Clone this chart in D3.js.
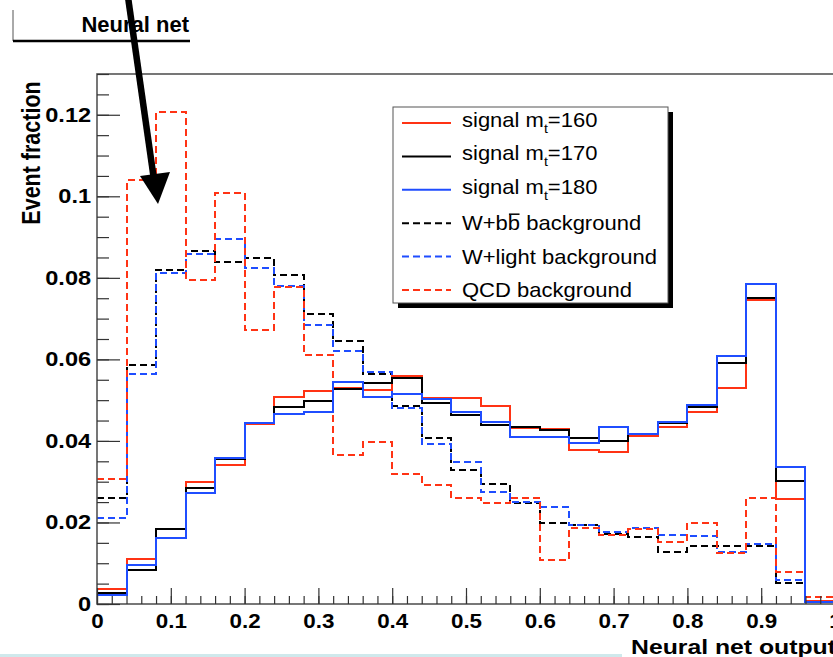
<!DOCTYPE html>
<html>
<head>
<meta charset="utf-8">
<script src="https://cdn.jsdelivr.net/npm/d3@7"></script>
<style>
  body { margin: 0; background: #fff; }
  svg { display: block; font-family: "Liberation Sans", Arial, Helvetica, sans-serif; }
</style>
</head>
<body>
<div id="chart"></div>
<script>
// bin edges of the neural net output histograms
const binEdges = [0, 0.04, 0.08, 0.12, 0.16, 0.2, 0.24, 0.28, 0.32, 0.36, 0.4, 0.44, 0.48,
  0.52, 0.56, 0.6, 0.64, 0.68, 0.72, 0.76, 0.8, 0.84, 0.88, 0.92, 0.96, 1.0]

// event fractions per bin
const sig160 = [0.0038, 0.0110, 0.0163, 0.0300, 0.0342, 0.0441, 0.0508, 0.0522, 0.0530, 0.0524,
  0.0559, 0.0506, 0.0506, 0.0485, 0.0431, 0.0430, 0.0377, 0.0373, 0.0413, 0.0434, 0.0471,
  0.0531, 0.0745, 0.0257, 0.0007]
const sig170 = [0.0027, 0.0083, 0.0183, 0.0284, 0.0355, 0.0443, 0.0482, 0.0497, 0.0527, 0.0541,
  0.0555, 0.0492, 0.0463, 0.0439, 0.0434, 0.0426, 0.0408, 0.0399, 0.0417, 0.0444, 0.0483,
  0.0591, 0.0751, 0.0302, 0.0005]
const sig180 = [0.0022, 0.0096, 0.0163, 0.0273, 0.0358, 0.0443, 0.0465, 0.0470, 0.0544, 0.0508,
  0.0515, 0.0502, 0.0471, 0.0447, 0.0410, 0.0410, 0.0395, 0.0434, 0.0417, 0.0447, 0.0488,
  0.0608, 0.0784, 0.0336, 0.0005]
const wbb = [0.0260, 0.0586, 0.0820, 0.0865, 0.0839, 0.0849, 0.0806, 0.0712, 0.0644, 0.0565,
  0.0485, 0.0406, 0.0328, 0.0294, 0.0247, 0.0199, 0.0194, 0.0172, 0.0165, 0.0128, 0.0142,
  0.0142, 0.0142, 0.0052, 0.0007]
const wlight = [0.0212, 0.0565, 0.0812, 0.0859, 0.0896, 0.0823, 0.0779, 0.0684, 0.0620, 0.0568,
  0.0480, 0.0392, 0.0349, 0.0274, 0.0251, 0.0238, 0.0194, 0.0177, 0.0187, 0.0169, 0.0167,
  0.0127, 0.0147, 0.0059, 0.0005]
const qcd = [0.0306, 0.1039, 0.1206, 0.0794, 0.1008, 0.0673, 0.0778, 0.0610, 0.0365, 0.0398,
  0.0320, 0.0292, 0.0260, 0.0247, 0.0260, 0.0108, 0.0187, 0.0169, 0.0185, 0.0153, 0.0198,
  0.0124, 0.0260, 0.0079, 0.0016]

const xTicks = [0, 0.1, 0.2, 0.3, 0.4, 0.5, 0.6, 0.7, 0.8, 0.9, 1]
const xTickLabels = ["0", "0.1", "0.2", "0.3", "0.4", "0.5", "0.6", "0.7", "0.8", "0.9", "1"]
const yTicks = [0, 0.02, 0.04, 0.06, 0.08, 0.1, 0.12]
const yTickLabels = ["0", "0.02", "0.04", "0.06", "0.08", "0.1", "0.12"]

const legendMass = ["160", "170", "180"]
const legendBkg = ["W+b", "W+light background", "QCD background"]

const red = "#ff3314"
const blue = "#1f4dff"

const width = 833
const height = 657
const plot = {left: 97, top: 74, right: 835, bottom: 604}

const svg = d3.select("#chart").append("svg")
  .attr("width", width)
  .attr("height", height)

const x = d3.scaleLinear().domain([0, 1]).range([plot.left, plot.right])
const y = d3.scaleLinear().domain([0, 0.13]).range([plot.bottom, plot.top])

// Histograms
svg.append("clipPath").attr("id", "clip")
  .append("rect")
  .attr("x", plot.left).attr("y", plot.top)
  .attr("width", plot.right - plot.left).attr("height", plot.bottom - plot.top)

const step = d3.line()
  .curve(d3.curveStepAfter)
  .x(d => Math.round(x(d[0])))
  .y(d => Math.round(y(d[1])))

const histPoints = values => {
  const pts = values.map((v, i) => [binEdges[i], v])
  pts.push([binEdges[binEdges.length - 1], values[values.length - 1]])
  return pts
}

const series = [
  {values: wbb, color: "#000", dash: "7,4"},
  {values: wlight, color: blue, dash: "7,4"},
  {values: qcd, color: red, dash: "7,4"},
  {values: sig160, color: red, dash: null},
  {values: sig170, color: "#000", dash: null},
  {values: sig180, color: blue, dash: null}
]

svg.append("g")
  .attr("clip-path", "url(#clip)")
  .selectAll("path")
  .data(series)
  .enter()
  .append("path")
  .attr("d", d => step(histPoints(d.values)))
  .attr("fill", "none")
  .attr("stroke", d => d.color)
  .attr("stroke-width", 2)
  .attr("stroke-dasharray", d => d.dash)

// Frame
svg.append("rect")
  .attr("x", plot.left).attr("y", plot.top)
  .attr("width", plot.right - plot.left).attr("height", plot.bottom - plot.top)
  .attr("fill", "none")
  .attr("stroke", "#555")
  .attr("stroke-width", 1.6)

// Axes
const styleAxis = g => {
  g.select(".domain").remove()
  g.selectAll(".tick line").attr("stroke", "#333").attr("stroke-width", 1.2)
}

svg.append("g")
  .attr("transform", `translate(${plot.left},0)`)
  .call(d3.axisLeft(y).tickValues(d3.range(0, 0.1301, 0.005)).tickSize(-12).tickFormat(""))
  .call(styleAxis)

svg.append("g")
  .attr("transform", `translate(${plot.left},0)`)
  .call(d3.axisLeft(y).tickValues(yTicks).tickSize(-23).tickPadding(5)
    .tickFormat((d, i) => yTickLabels[i]))
  .call(styleAxis)
  .selectAll("text")
  .attr("transform", "scale(1.18,1)")
  .style("font-size", "20px")
  .style("font-weight", "bold")
  .attr("fill", "#000")

svg.append("g")
  .attr("transform", `translate(0,${plot.bottom})`)
  .call(d3.axisBottom(x).tickValues(d3.range(0, 1.001, 0.02)).tickSize(-8).tickFormat(""))
  .call(styleAxis)

svg.append("g")
  .attr("transform", `translate(0,${plot.bottom})`)
  .call(d3.axisBottom(x).tickValues(xTicks).tickSize(-16).tickPadding(9.8)
    .tickFormat((d, i) => xTickLabels[i]))
  .call(styleAxis)
  .selectAll("text")
  .attr("transform", "scale(1.12,1)")
  .style("font-size", "20px")
  .style("font-weight", "bold")
  .attr("fill", "#000")

// Axis titles
svg.append("text")
  .attr("transform", "translate(40,153) scale(1.2,1) rotate(-90)")
  .attr("text-anchor", "middle")
  .style("font-size", "21.5px")
  .style("font-weight", "bold")
  .text("Event fraction")

svg.append("text")
  .attr("transform", "translate(836,654) scale(1.18,1)")
  .attr("text-anchor", "end")
  .style("font-size", "21px")
  .style("font-weight", "bold")
  .text("Neural net output")

// Title pave
svg.append("line")
  .attr("x1", 13).attr("y1", 10).attr("x2", 13).attr("y2", 41)
  .attr("stroke", "#555").attr("stroke-width", 1)
svg.append("line")
  .attr("x1", 13).attr("y1", 41).attr("x2", 190).attr("y2", 41)
  .attr("stroke", "#000").attr("stroke-width", 2.5)
svg.append("text")
  .attr("x", 189).attr("y", 31.5)
  .attr("text-anchor", "end")
  .style("font-size", "22px")
  .style("font-weight", "bold")
  .text("Neural net")

// Legend
const legend = svg.append("g")
legend.append("rect")
  .attr("x", 398).attr("y", 112).attr("width", 275).attr("height", 196)
  .attr("fill", "#000")
legend.append("rect")
  .attr("x", 393).attr("y", 107).attr("width", 275).attr("height", 196)
  .attr("fill", "#fff").attr("stroke", "#555").attr("stroke-width", 1)

const legendSeries = [series[3], series[4], series[5], series[0], series[1], series[2]]
legendSeries.forEach((s, i) => {
  const ly = 123 + i * 33.4
  legend.append("line")
    .attr("x1", 402).attr("x2", 451).attr("y1", ly).attr("y2", ly)
    .attr("stroke", s.color).attr("stroke-width", 2)
    .attr("stroke-dasharray", s.dash)
  const t = legend.append("text")
    .attr("transform", `translate(462,${ly + (i < 3 ? 4 : 7)}) scale(1.1,1)`)
    .style("font-size", "20px")
  if (i < 3) {
    t.append("tspan").text("signal m")
    t.append("tspan").attr("dy", 6).style("font-size", "13px").text("t")
    t.append("tspan").attr("dy", -6).text("=" + legendMass[i])
  } else if (i === 3) {
    t.append("tspan").text(legendBkg[0])
    t.append("tspan").text("b")
    t.append("tspan").text(" background")
    const node = t.node()
    const start = node.getStartPositionOfChar(3)
    const w = node.getSubStringLength(3, 1)
    t.append("tspan")
    legend.append("line")
      .attr("transform", `translate(462,${ly + 7}) scale(1.1,1)`)
      .attr("x1", start.x + 1).attr("x2", start.x + w - 0.5)
      .attr("y1", -16).attr("y2", -16)
      .attr("stroke", "#000").attr("stroke-width", 1.5)
  } else {
    t.text(legendBkg[i - 3])
  }
})

// Arrow
svg.append("line")
  .attr("x1", 128).attr("y1", -3).attr("x2", 154).attr("y2", 180)
  .attr("stroke", "#000").attr("stroke-width", 6.5)
svg.append("polygon")
  .attr("points", "158,204 140,176 170,172")
  .attr("fill", "#000")

// light strip at the bottom edge
svg.append("rect")
  .attr("x", 0).attr("y", 654).attr("width", 622).attr("height", 3)
  .attr("fill", "#cfe9ec")
</script>
</body>
</html>
